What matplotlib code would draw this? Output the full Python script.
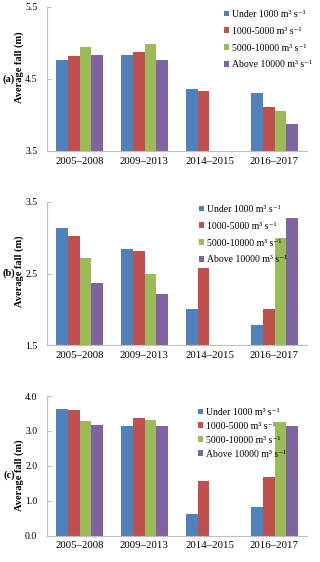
import matplotlib
matplotlib.use("Agg")
import matplotlib.pyplot as plt
import numpy as np
from matplotlib.patches import Patch
from matplotlib.ticker import FormatStrFormatter

plt.rcParams['font.family'] = ['Liberation Serif', 'DejaVu Serif']

periods = ["2005\u20132008", "2009\u20132013", "2014\u20132015", "2016\u20132017"]
series = ["Under 1000 m\u00b3 s\u207b\u00b9", "1000-5000 m\u00b3 s\u207b\u00b9",
          "5000-10000 m\u00b3 s\u207b\u00b9", "Above 10000 m\u00b3 s\u207b\u00b9"]
colors = ["#4F81BD", "#C0504D", "#9BBB59", "#8064A2"]

# panel (a)
a_under = [4.76, 4.84, 4.36, 4.30]
a_1000 = [4.82, 4.875, 4.34, 4.11]
a_5000 = [4.94, 4.98, np.nan, 4.06]
a_above = [4.84, 4.76, np.nan, 3.87]
# panel (b)
b_under = [3.13, 2.84, 2.01, 1.78]
b_1000 = [3.02, 2.82, 2.57, 2.01]
b_5000 = [2.72, 2.49, np.nan, 3.00]
b_above = [2.37, 2.22, np.nan, 3.27]
# panel (c)
c_under = [3.62, 3.14, 0.62, 0.83]
c_1000 = [3.61, 3.36, 1.57, 1.67]
c_5000 = [3.29, 3.30, np.nan, 3.25]
c_above = [3.16, 3.14, np.nan, 3.14]

W, H = 320, 562
fig = plt.figure(figsize=(W / 100, H / 100), dpi=100)

# label, data, ylim, yticks, axes top px, axes bottom px, legend anchor px, labelspacing,
# ylabel vertical position (axes fraction), panel letter y px
panels = [
    ("(a)", [a_under, a_1000, a_5000, a_above], (3.5, 5.5), [3.5, 4.5, 5.5], 7, 151, (224, 10), 0.8, 0.58, 79),
    ("(b)", [b_under, b_1000, b_5000, b_above], (1.5, 3.5), [1.5, 2.5, 3.5], 201.7, 345.3, (199, 205), 0.8, 0.517, 273),
    ("(c)", [c_under, c_1000, c_5000, c_above], (0.0, 4.0), [0.0, 1.0, 2.0, 3.0, 4.0], 396, 535.7, (198, 408), 0.5, 0.434, 475),
]

left, right = 47, 307
bw = 0.18
x = np.arange(len(periods))
for label, data, ylim, yticks, top, bottom, legpos, lsp, ylab_y, let_y in panels:
    ax = fig.add_axes([left / W, 1 - bottom / H, (right - left) / W, (bottom - top) / H])
    for i, (vals, c) in enumerate(zip(data, colors)):
        ax.bar(x + (i - 1.5) * bw, vals, width=bw, color=c, label=series[i], zorder=2)
    ax.set_xlim(-0.5, 3.5)
    ax.set_ylim(*ylim)
    ax.set_yticks(yticks)
    ax.yaxis.set_major_formatter(FormatStrFormatter('%.1f'))
    ax.set_xticks(x)
    ax.set_xticklabels(periods)
    for s in ["top", "right"]:
        ax.spines[s].set_visible(False)
    for s in ["left", "bottom"]:
        ax.spines[s].set_color("#BFBFBF")
        ax.spines[s].set_linewidth(0.8)
    ax.tick_params(axis='y', direction='in', length=3, color="#BFBFBF", labelsize=7, pad=7)
    ax.tick_params(axis='x', length=0, labelsize=7.8, pad=4)
    ax.set_ylabel("Average fall (m)", fontsize=7.5, fontweight='bold')
    ax.yaxis.set_label_coords((24.5 - left) / (right - left), ylab_y)
    fig.text(9 / W, 1 - let_y / H, label, fontsize=7.5, fontweight='bold',
             ha='center', va='center')
    handles = [Patch(facecolor=c) for c in colors]
    ax.legend(handles, series, loc='upper left',
              bbox_to_anchor=(legpos[0] / W, 1 - legpos[1] / H), bbox_transform=fig.transFigure,
              frameon=False, fontsize=7, handlelength=0.55, handleheight=0.55,
              handletextpad=0.3, labelspacing=lsp, borderpad=0, borderaxespad=0)

fig.savefig("out.png", dpi=100)
